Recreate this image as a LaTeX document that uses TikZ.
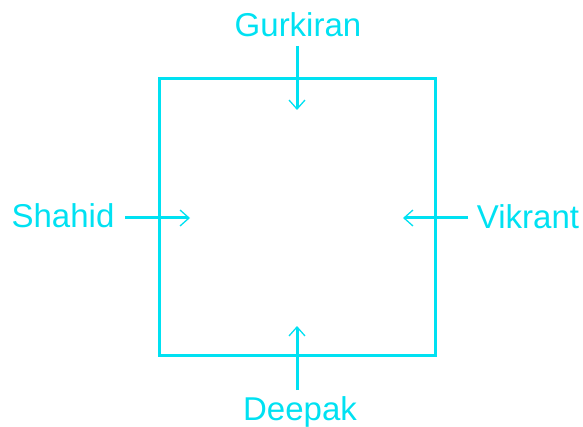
\documentclass[tikz,border=0pt]{standalone}
\usepackage{fontspec}
\setmainfont{Liberation Sans}
\usetikzlibrary{arrows.meta}
\definecolor{cy}{RGB}{0,225,242}
\begin{document}
\begin{tikzpicture}[x=1pt,y=-1pt,
  edge/.style={draw=cy,line width=3pt},
  pointer/.style={draw=cy,line width=3pt,-{Straight Barb[length=9pt,width=16pt,line width=1.3pt]}},
  lbl/.style={text=cy,font=\fontsize{33}{38}\selectfont,inner sep=0pt,anchor=base}]
\useasboundingbox (0,0) rectangle (583,427);
\coordinate (sq1) at (159,79);
\coordinate (sq2) at (435,355);
\draw[edge] (sq1) rectangle (sq2);
\node[lbl] (g) at (298,37) {Gurkiran};
\node[lbl] (s) at (63,228) {Shahid};
\node[lbl] (v) at (528,229) {Vikrant};
\node[lbl] (d) at (300,420) {Deepak};
\coordinate (gs) at (297,46);
\coordinate (ge) at (297,110);
\coordinate (ss) at (125,218);
\coordinate (se) at (190,218);
\coordinate (vs) at (468,218);
\coordinate (ve) at (403,218);
\coordinate (ds) at (297,390);
\coordinate (de) at (297,326);
\draw[pointer] (gs) -- (ge);
\draw[pointer] (ss) -- (se);
\draw[pointer] (vs) -- (ve);
\draw[pointer] (ds) -- (de);
\end{tikzpicture}
\end{document}
